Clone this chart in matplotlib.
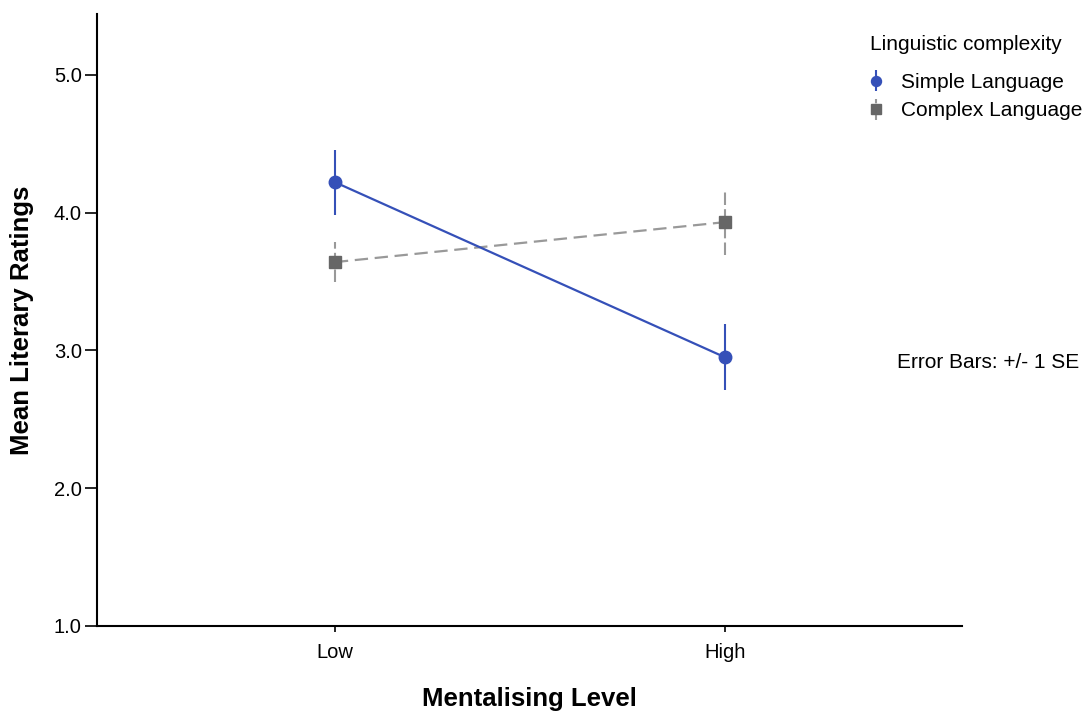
import matplotlib.pyplot as plt

plt.rcParams['font.family'] = ['Liberation Sans', 'DejaVu Sans']

levels = ['Low', 'High']
simple_mean = [4.22, 2.95]
simple_se = [0.235, 0.24]
complex_mean = [3.64, 3.93]
complex_se = [0.145, 0.24]

blue = '#3550b8'
grey_line = '#999999'
grey_mark = '#666666'

fig = plt.figure(figsize=(10.85, 7.12), dpi=100)
ax = fig.add_axes([0.0894, 0.1208, 0.7972, 0.8595])

x = list(range(len(levels)))

# Simple Language
ax.plot(x, simple_mean, color=blue, lw=1.6, zorder=3)
eb_s = ax.errorbar(x, simple_mean, yerr=simple_se, fmt='o', color=blue, ms=9,
                   elinewidth=1.5, capsize=0, zorder=4)

# Complex Language
ax.plot(x, complex_mean, color=grey_line, lw=1.6, ls=(0, (6, 3)), zorder=2)
eb_c = ax.errorbar(x, complex_mean, yerr=complex_se, fmt='s', color=grey_mark, ms=9,
                   ecolor=grey_line, elinewidth=1.5, capsize=0, zorder=4)
eb_c[2][0].set_linestyle((0, (6, 2)))

ax.set_xlim(-0.61, 1.608)
ax.set_ylim(1.0, 5.44)
ax.set_xticks(x)
ax.set_xticklabels(levels, fontsize=14.5)
ax.set_yticks([1.0, 2.0, 3.0, 4.0, 5.0])
ax.set_yticklabels(['1.0', '2.0', '3.0', '4.0', '5.0'], fontsize=14.5)
ax.tick_params(axis='y', direction='out', length=9, width=1.2, pad=2)
ax.tick_params(axis='x', direction='out', length=4, width=1.2, pad=8)
for s in ['top', 'right']:
    ax.spines[s].set_visible(False)
for s in ['left', 'bottom']:
    ax.spines[s].set_linewidth(1.5)

ax.set_xlabel('Mentalising Level', fontsize=18.5, fontweight='bold', labelpad=18)
ax.set_ylabel('Mean Literary Ratings', fontsize=18.5, fontweight='bold', labelpad=14)

fig.text(870 / 1085, 1 - 45 / 712, 'Linguistic complexity', ha='left', va='center', fontsize=15)
fig.legend([eb_s, eb_c], ['Simple Language', 'Complex Language'],
           loc='upper left', bbox_to_anchor=(870 / 1085, 1 - 73 / 712), frameon=False,
           fontsize=15, handlelength=0.6, handletextpad=0.9, labelspacing=0.45,
           borderpad=0, borderaxespad=0, markerscale=0.8)

fig.text(0.995, 1 - 362 / 712, 'Error Bars: +/- 1 SE', ha='right', va='center', fontsize=15)

fig.savefig('out.png', dpi=100)
